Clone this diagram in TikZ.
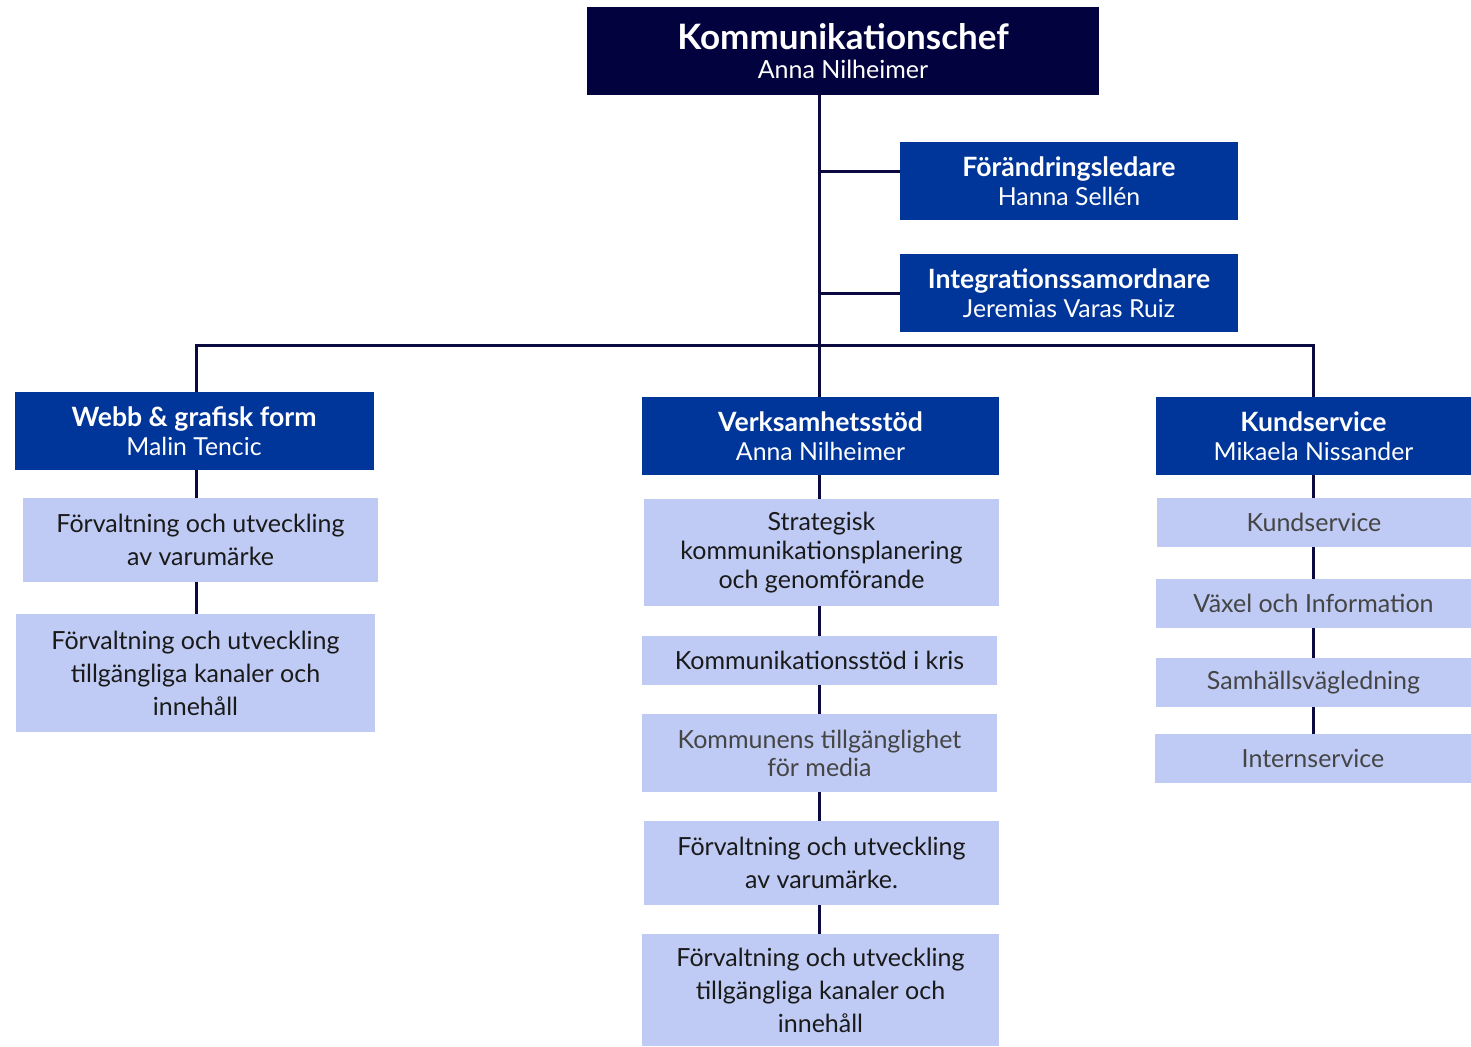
\documentclass[tikz,border=0pt]{standalone}
\usepackage{fontspec}
\setmainfont{Lato}
\usetikzlibrary{backgrounds}
\definecolor{navy}{HTML}{02023F}
\definecolor{mblue}{HTML}{00369A}
\definecolor{lblue}{HTML}{BFCBF4}
\definecolor{txtdark}{HTML}{1A1A1A}
\definecolor{txtgrey}{HTML}{454545}
\definecolor{linec}{HTML}{0A0A40}
\newcommand{\hd}[1]{{\fontsize{13.3}{14.5}\selectfont\bfseries #1}}
\tikzset{
  boss/.style={fill=navy,text=white,inner sep=0pt,align=center,minimum width=256pt,minimum height=44pt},
  mgr/.style={fill=mblue,text=white,inner sep=0pt,align=center,minimum height=39pt,
    font=\fontsize{12.4}{14.5}\selectfont},
  sub/.style={fill=lblue,text=txtdark,inner sep=0pt,align=center,
    font=\fontsize{12.5}{16.5}\selectfont},
  subg/.style={sub,text=txtgrey},
  conn/.style={draw=linec,line width=1.5pt}
}
\begin{document}
\begin{tikzpicture}[x=0.5pt,y=-0.5pt]
\useasboundingbox (0,0) rectangle (1471,1046);
\node[boss] (top) at (843,51) {{\fontsize{17.5}{18}\selectfont\bfseries Kommunikationschef}\\[2.5pt]{\fontsize{12.5}{14}\selectfont Anna Nilheimer}};
\node[mgr,minimum width=169pt] (forl) at (1069,181) {\hd{Förändringsledare}\\Hanna Sellén};
\node[mgr,minimum width=169pt] (integ) at (1069,293) {\hd{Integrationssamordnare}\\Jeremias Varas Ruiz};

\node[mgr,minimum width=179.5pt] (webb) at (194,431) {\hd{Webb \& grafisk form}\\Malin Tencic};
\node[sub,minimum width=177.5pt,minimum height=42pt] (l1) at (200.5,540) {Förvaltning och utveckling\\av varumärke};
\node[sub,minimum width=179.5pt,minimum height=59pt] (l2) at (195.5,673) {Förvaltning och utveckling\\tillgängliga kanaler och\\innehåll};

\node[mgr,minimum width=178.5pt] (verk) at (820.5,436) {\hd{Verksamhetsstöd}\\Anna Nilheimer};
\node[sub,minimum width=177.5pt,minimum height=53.5pt,font=\fontsize{12.5}{14.5}\selectfont] (m1) at (821.5,552.5) {Strategisk\\kommunikationsplanering\\och genomförande};
\node[sub,minimum width=177.5pt,minimum height=24.5pt] (m2) at (819.5,660.5) {Kommunikationsstöd i kris};
\node[subg,minimum width=177.5pt,minimum height=39pt,font=\fontsize{12.5}{14}\selectfont] (m3) at (819.5,753) {Kommunens tillgänglighet\\för media};
\node[sub,minimum width=177.5pt,minimum height=42pt] (m4) at (821.5,863) {Förvaltning och utveckling\\av varumärke.};
\node[sub,minimum width=178.5pt,minimum height=56pt] (m5) at (820.5,990) {Förvaltning och utveckling\\tillgängliga kanaler och\\innehåll};

\node[mgr,minimum width=157.5pt] (kund) at (1313.5,436) {\hd{Kundservice}\\Mikaela Nissander};
\node[subg,minimum width=157pt,minimum height=24.5pt] (r1) at (1314,522.5) {Kundservice};
\node[subg,minimum width=157.5pt,minimum height=24.5pt] (r2) at (1313.5,603.5) {Växel och Information};
\node[subg,minimum width=157.5pt,minimum height=24.5pt] (r3) at (1313.5,682.5) {Samhällsvägledning};
\node[subg,minimum width=158pt,minimum height=24.5pt] (r4) at (1313,758.5) {Internservice};

\coordinate (bus) at (819,345);
\coordinate (lx) at (196,0);
\coordinate (mx) at (819,0);
\coordinate (rx) at (1313,0);
\coordinate (fy) at (0,171);

\begin{scope}[on background layer]
\draw[conn] (top.south -| mx) -- (verk.north -| mx);
\draw[conn] (forl.west |- fy) -- (mx |- fy);
\draw[conn] (integ.west) -- (integ.west -| mx);
\draw[conn] (webb.north -| lx) |- (bus) -| (kund.north -| rx);
\draw[conn] (webb.south -| lx) -- (l2.north -| lx);
\draw[conn] (verk.south -| mx) -- (m5.north -| mx);
\draw[conn] (kund.south -| rx) -- (r4.north -| rx);
\end{scope}
\end{tikzpicture}
\end{document}
